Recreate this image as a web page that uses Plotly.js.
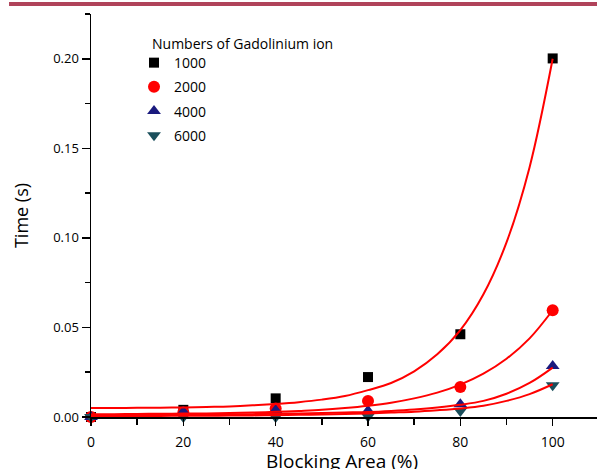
<!DOCTYPE html>
<html>
<head>
<meta charset="utf-8">
<script src="https://cdn.plot.ly/plotly-3.0.1.min.js"></script>
<style>html,body{margin:0;padding:0;background:#fff;}#chart{width:597px;height:469px;}</style>
</head>
<body>
<div id="chart"></div>
<script>
// Measured points
const blockingArea = [0, 20, 40, 60, 80, 100];
const ions = ["1000", "2000", "4000", "6000"];
const time1000 = [0, 0.0040, 0.0104, 0.0223, 0.0462, 0.2002];
const time2000 = [0, 0.0025, 0.0047, 0.0090, 0.0168, 0.0596];
const time4000 = [0, 0.0030, 0.0037, 0.0035, 0.0071, 0.0285];
const time6000 = [0, 0.0000, 0.0000, 0.0003, 0.0034, 0.0177];

// Fit curves
const fitX = [0, 5, 10, 15, 20, 25, 30, 35, 40, 45, 50, 55, 60, 65, 70, 75, 80, 85, 90, 95, 100];
const fit1000 = [0.0050, 0.0050, 0.0051, 0.0052, 0.0053, 0.0056, 0.0059, 0.0065, 0.0073, 0.0083, 0.0097, 0.0117, 0.0150, 0.0190, 0.0255, 0.0350, 0.0485, 0.0685, 0.0975, 0.1395, 0.2000];
const fit2000 = [0.0016, 0.0016, 0.0017, 0.0018, 0.0019, 0.0020, 0.0022, 0.0025, 0.0029, 0.0034, 0.0040, 0.0050, 0.0063, 0.0080, 0.0104, 0.0136, 0.0181, 0.0242, 0.0325, 0.0439, 0.0596];
const fit4000 = [0.0010, 0.0010, 0.0011, 0.0012, 0.0013, 0.0014, 0.0015, 0.0016, 0.0018, 0.0020, 0.0022, 0.0025, 0.0028, 0.0034, 0.0042, 0.0053, 0.0068, 0.0090, 0.0130, 0.0190, 0.0276];
const fit6000 = [0.0005, 0.0005, 0.0006, 0.0006, 0.0007, 0.0007, 0.0008, 0.0009, 0.0010, 0.0012, 0.0014, 0.0017, 0.0020, 0.0025, 0.0030, 0.0038, 0.0048, 0.0063, 0.0090, 0.0128, 0.0183];

const xTicks = [0, 20, 40, 60, 80, 100];
const yTicks = [0, 0.05, 0.10, 0.15, 0.20];
const yTickText = ["0.00", "0.05", "0.10", "0.15", "0.20"];

const series = [time1000, time2000, time4000, time6000];
const fits = [fit1000, fit2000, fit4000, fit6000];
const symbols = ["square", "circle", "triangle-up", "triangle-down"];
const colors = ["#000000", "#ff0000", "#1a1a7e", "#1b4f5c"];
const sizes = [10, 12, 12, 12];

const FONT = "Open Sans, Noto Sans, sans-serif";
const traces = [];
series.forEach((ys, i) => {
  traces.push({
    x: blockingArea, y: ys, type: "scatter", mode: "markers",
    name: ions[i], legendgroup: "g" + i,
    marker: {symbol: symbols[i], color: colors[i], size: sizes[i], line: {width: 0}},
    cliponaxis: false
  });
});
fits.forEach((ys, i) => {
  traces.push({
    x: fitX, y: ys, type: "scatter", mode: "lines",
    line: {color: "#ff0000", width: 2, shape: "spline", smoothing: 1},
    showlegend: false, hoverinfo: "skip", cliponaxis: true
  });
});

const layout = {
  width: 597, height: 469,
  margin: {l: 91, r: 0, t: 14, b: 52},
  paper_bgcolor: "#ffffff", plot_bgcolor: "#ffffff",
  font: {family: FONT, size: 14, color: "#000"},
  showlegend: true,
  legend: {
    x: 0.085, y: 0.918, xanchor: "left", yanchor: "top",
    bgcolor: "rgba(0,0,0,0)", borderwidth: 0,
    traceorder: "grouped", tracegroupgap: 3,
    font: {family: FONT, size: 14, color: "#000"}
  },
  annotations: [{
    text: "Numbers of Gadolinium ion", xref: "paper", yref: "paper",
    x: 0.1166, y: 0.928, xanchor: "left", yanchor: "middle", showarrow: false,
    font: {family: FONT, size: 14, color: "#000"}
  }, {
    text: "Blocking Area (%)", xref: "paper", yref: "paper",
    x: 0.496, y: -0.071, xanchor: "center", yanchor: "top", showarrow: false,
    font: {family: FONT, size: 19, color: "#000"}
  }],
  xaxis: {
    range: [0, 109.6], tickvals: xTicks, ticktext: xTicks.map(String),
    showline: true, linecolor: "#000", linewidth: 1.5, mirror: false,
    ticks: "outside", ticklen: 7, tickwidth: 1.5, tickcolor: "#000",
    ticklabelstandoff: 5,
    minor: {dtick: 10, tick0: 0, ticks: "outside", ticklen: 6, tickwidth: 1.5, tickcolor: "#000", showgrid: false},
    showgrid: false, zeroline: false,
    tickfont: {family: FONT, size: 14, color: "#000"}
  },
  yaxis: {
    range: [0, 0.225], tickvals: yTicks, ticktext: yTickText,
    showline: true, linecolor: "#000", linewidth: 1.5, mirror: false,
    ticks: "outside", ticklen: 8, tickwidth: 1.5, tickcolor: "#000",
    minor: {dtick: 0.025, tick0: 0, ticks: "outside", ticklen: 5, tickwidth: 1.5, tickcolor: "#000", showgrid: false},
    showgrid: false, zeroline: false,
    tickfont: {family: FONT, size: 13, color: "#000"},
    title: {text: "Time (s)", font: {family: FONT, size: 18, color: "#000"}, standoff: 20}
  },
  shapes: [{
    type: "rect", xref: "paper", yref: "paper",
    x0: -0.162, x1: 1.0, y0: 1.0199, y1: 1.0298,
    fillcolor: "#b0435a", line: {width: 0}, layer: "above"
  }]
};

Plotly.newPlot("chart", traces, layout, {staticPlot: true, displayModeBar: false});
</script>
</body>
</html>
